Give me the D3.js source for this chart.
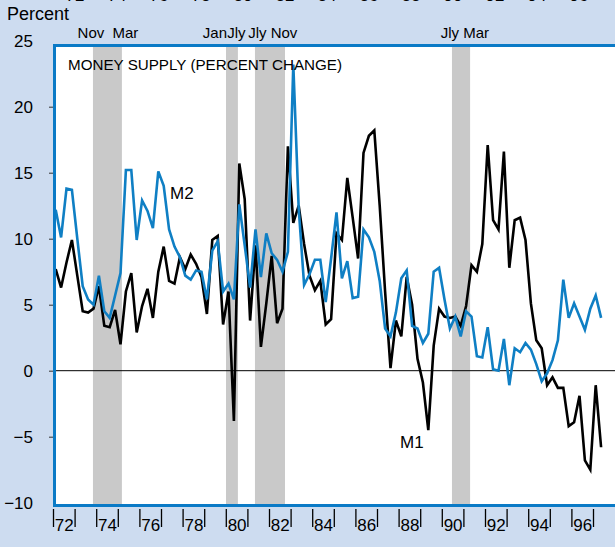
<!DOCTYPE html>
<html>
<head>
<meta charset="utf-8">
<script src="https://cdn.jsdelivr.net/npm/d3@7/dist/d3.min.js"></script>
<style>
  body { margin: 0; background: #cddcf0; }
  svg { display: block; font-family: "Liberation Sans", Arial, sans-serif; }
</style>
</head>
<body>
<div id="chart"></div>
<script>
// quarterly growth rates, 1972 Q1 .. 1997 Q2
var startYear = 1972;

var m1Values = [
  7.7, 6.3, 8.2, 9.9, 7.2, 4.5, 4.4, 4.7, 6.4, 3.4,
  3.3, 4.6, 2.0, 6.0, 7.4, 2.9, 4.9, 6.2, 4.0, 7.5,
  9.4, 6.8, 6.6, 8.6, 7.7, 8.8, 8.1, 7.1, 4.3, 9.9,
  10.2, 3.5, 6.0, -3.8, 15.7, 13.0, 3.8, 9.5, 1.8, 5.1,
  8.7, 3.6, 4.7, 17.0, 11.2, 12.5, 9.6, 7.2, 6.1, 6.8,
  3.5, 3.9, 10.4, 9.9, 14.6, 11.6, 8.5, 16.5, 17.8, 18.2,
  12.5, 6.0, 0.2, 3.8, 2.6, 7.1, 5.0, 0.9, -0.9, -4.5,
  1.9, 4.7, 4.1, 4.0, 4.1, 3.4, 4.9, 8.0, 7.5, 9.6,
  17.1, 11.4, 10.7, 16.6, 7.8, 11.4, 11.6, 9.9, 5.1, 2.3,
  1.7, -1.1, -0.5, -1.3, -1.3, -4.2, -3.9, -1.9, -6.8, -7.5,
  -1.1, -5.8
];

var m2Values = [
  12.2, 10.1, 13.8, 13.7, 10.0, 6.4, 5.4, 5.0, 7.2, 4.5,
  4.0, 5.7, 7.4, 15.2, 15.2, 9.9, 12.9, 12.1, 10.8, 15.1,
  14.0, 10.7, 9.4, 8.6, 7.2, 6.9, 7.6, 7.5, 5.4, 9.1,
  9.8, 6.0, 6.6, 5.4, 12.6, 9.5, 6.3, 10.7, 7.1, 10.4,
  8.9, 8.4, 7.5, 9.0, 23.2, 12.3, 6.5, 7.3, 8.4, 8.4,
  5.2, 8.5, 12.0, 7.0, 8.3, 5.5, 5.6, 10.7, 10.1, 9.0,
  6.8, 3.2, 2.6, 4.4, 7.0, 7.6, 3.4, 3.2, 2.1, 2.8,
  7.5, 7.8, 5.4, 3.2, 4.1, 2.6, 4.5, 4.1, 1.1, 1.0,
  3.3, 0.1, 0.0, 2.4, -1.1, 1.7, 1.4, 2.1, 1.6, 0.5,
  -0.8, -0.2, 0.8, 2.3, 6.9, 4.0, 5.1, 4.1, 3.1, 4.7,
  5.7, 4.0
];

// recession periods (fractional years)
var recessions = [
  [1973.85, 1975.19],
  [1980.01, 1980.56],
  [1981.35, 1982.74],
  [1990.47, 1991.31]
];

var recessionLabels = ['Nov', 'Mar', 'Jan', 'Jly', 'Jly', 'Nov', 'Jly', 'Mar'];

var yTicks = [-10, -5, 0, 5, 10, 15, 20, 25];
var yearTicks = d3.range(1972, 1998);
var yearLabels = ['72', '74', '76', '78', '80', '82', '84', '86', '88', '90', '92', '94', '96'];

var svgWidth = 615;
var svgHeight = 547;

var svg = d3.select('#chart')
  .append('svg')
  .attr('width', svgWidth)
  .attr('height', svgHeight);

// scales
var xScale = d3.scaleLinear()
  .domain([1972, 1999])
  .range([53, 53 + 27 * 21.6]);

var yScale = d3.scaleLinear()
  .domain([-10, 25])
  .range([502.7, 40.7]);

// cut-off year labels of the panel above (only their feet show)
var topScale = d3.scaleLinear().domain([72, 96]).range([75, 579]);
svg.append('g')
  .selectAll('text')
  .data(yearLabels)
  .enter()
  .append('text')
  .attr('x', d => topScale(+d))
  .attr('y', 1)
  .attr('text-anchor', 'middle')
  .style('font-size', '17px')
  .text(d => d);

// plot frame
var frameTop = 45.5;
var frameBottom = 505.5;
var frameLeft = 54.5;

svg.append('rect')
  .attr('x', frameLeft)
  .attr('y', frameTop)
  .attr('width', 640)
  .attr('height', frameBottom - frameTop)
  .attr('fill', '#ffffff');

// recession bands
svg.append('g')
  .selectAll('rect')
  .data(recessions)
  .enter()
  .append('rect')
  .attr('x', d => xScale(d[0]))
  .attr('y', frameTop)
  .attr('width', d => xScale(d[1]) - xScale(d[0]))
  .attr('height', frameBottom - frameTop)
  .attr('fill', '#c9c9c9');

// month labels above the bands, nudged apart where they crowd
var labelDates = recessions.flat();
var labelShift = [-2, 3.5, 1, -1.5, 2.5, -1, -2, 6];
svg.append('g')
  .selectAll('text')
  .data(recessionLabels)
  .enter()
  .append('text')
  .attr('x', (d, i) => xScale(labelDates[i]) + labelShift[i])
  .attr('y', 38)
  .attr('text-anchor', (d, i) => i == 2 ? 'end' : 'middle')
  .style('font-size', '15px')
  .text(d => d);

// zero line
svg.append('line')
  .attr('x1', frameLeft)
  .attr('x2', svgWidth)
  .attr('y1', yScale(0))
  .attr('y2', yScale(0))
  .attr('stroke', '#000')
  .attr('stroke-width', 1);

// series
var dates = m1Values.map((d, i) => startYear + 0.125 + i / 4);

var line = d3.line()
  .x((d, i) => xScale(dates[i]))
  .y(d => yScale(d));

svg.append('path')
  .datum(m1Values)
  .attr('d', line)
  .attr('fill', 'none')
  .attr('stroke', '#000')
  .attr('stroke-width', 2.6)
  .attr('stroke-linejoin', 'miter');

svg.append('path')
  .datum(m2Values)
  .attr('d', line)
  .attr('fill', 'none')
  .attr('stroke', '#0f7fc4')
  .attr('stroke-width', 2.6)
  .attr('stroke-linejoin', 'miter');

// frame border on top of the lines
svg.append('path')
  .attr('d', `M${svgWidth + 5},${frameTop} H${frameLeft} V${frameBottom} H${svgWidth + 5}`)
  .attr('fill', 'none')
  .attr('stroke', '#0a7ac6')
  .attr('stroke-width', 3);

// title and series labels
svg.append('text')
  .attr('x', 68)
  .attr('y', 70)
  .style('font-size', '15.2px')
  .text('MONEY SUPPLY (PERCENT CHANGE)');

svg.append('text')
  .attr('x', 170)
  .attr('y', 199)
  .style('font-size', '17px')
  .text('M2');

svg.append('text')
  .attr('x', 400)
  .attr('y', 448)
  .style('font-size', '17px')
  .text('M1');

svg.append('text')
  .attr('x', 7)
  .attr('y', 20)
  .style('font-size', '18px')
  .text('Percent');

// left axis
var leftAxis = d3.axisLeft(yScale)
  .tickValues(yTicks)
  .tickSize(4)
  .tickPadding(16)
  .tickFormat(d3.format('d'));

var yAxisGroup = svg.append('g')
  .attr('transform', `translate(${frameLeft - 1.5}, 0)`)
  .call(leftAxis);

yAxisGroup.select('.domain').remove();
yAxisGroup.selectAll('.tick line')
  .filter(d => d == 25 || d == -10)
  .remove();
yAxisGroup.selectAll('.tick line').attr('stroke', '#333');
yAxisGroup.selectAll('text')
  .attr('fill', '#000')
  .style('font-size', '17px')
  .style('font-family', '"Liberation Sans", Arial, sans-serif');

// bottom axis: year ticks
var bottomAxis = d3.axisBottom(xScale)
  .tickValues(yearTicks)
  .tickSize(18)
  .tickFormat('');

var xAxisGroup = svg.append('g')
  .attr('transform', 'translate(0, 509)')
  .call(bottomAxis);
xAxisGroup.select('.domain').remove();
xAxisGroup.selectAll('.tick line').attr('stroke', '#000').attr('stroke-width', 1.3);

// bottom axis: even-year labels centred in the year
var labelAxis = d3.axisBottom(xScale)
  .tickValues(yearLabels.map(d => 1900 + (+d) + 0.5))
  .tickSize(0)
  .tickPadding(22)
  .tickFormat(d => String(Math.floor(d) - 1900));

var labelGroup = svg.append('g')
  .attr('transform', 'translate(0, 509)')
  .call(labelAxis);
labelGroup.select('.domain').remove();
labelGroup.selectAll('text')
  .attr('fill', '#000')
  .attr('dy', 0)
  .style('font-size', '17px')
  .style('font-family', '"Liberation Sans", Arial, sans-serif');
</script>
</body>
</html>
